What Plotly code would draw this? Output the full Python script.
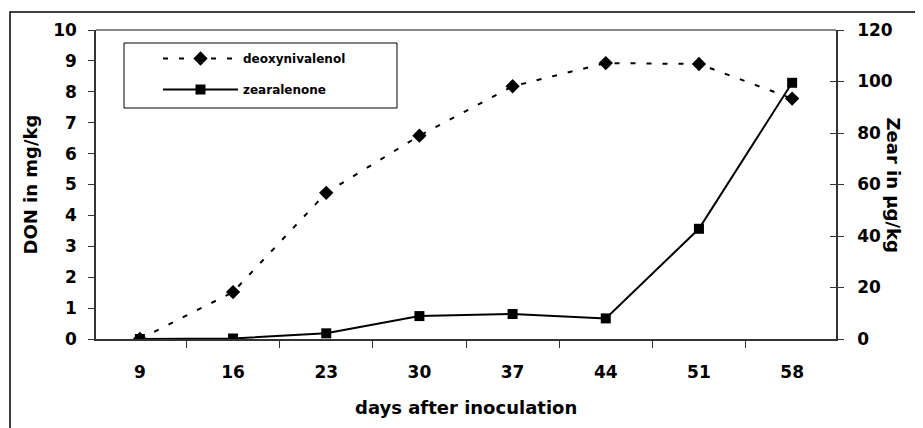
import plotly.graph_objects as go

days = ["9", "16", "23", "30", "37", "44", "51", "58"]
don_mg_kg = [0.0, 1.52, 4.73, 6.58, 8.18, 8.93, 8.9, 7.78]
zear_ug_kg = [0.0, 0.2, 2.2, 8.9, 9.7, 8.0, 42.8, 99.5]
left_ticks = list(range(0, 11))
right_ticks = list(range(0, 121, 20))

FONT = "DejaVu Sans"
OFF = 8  # default body margin of the page
W, H = 923 - OFF, 428 - OFF
# plot area in page pixels: x 96..836, y 30..339
PL, PR, PT, PB = 96, 836, 30, 339
L, T = PL - OFF, PT - OFF
R, B = W - (PR - OFF), H - (PB - OFF)
PW, PH = PR - PL, PB - PT


def px(x):
    return (x - PL) / PW


def py(y):
    return (PB - y) / PH


fig = go.Figure()
fig.add_trace(go.Scatter(
    x=days, y=don_mg_kg, name="deoxynivalenol", mode="lines+markers",
    line=dict(color="black", width=2, dash="5px,11px"),
    marker=dict(symbol="diamond", size=11, color="black"),
    legendgroup="a", yaxis="y"))
fig.add_trace(go.Scatter(
    x=days, y=zear_ug_kg, name="zearalenone", mode="lines+markers",
    line=dict(color="black", width=2),
    marker=dict(symbol="square", size=10, color="black"),
    legendgroup="b", yaxis="y2"))
fig.add_trace(go.Scatter(x=[days[0]], y=[None], yaxis="y3", showlegend=False,
                         hoverinfo="skip"))

tickfont = dict(family=FONT, size=17, color="black", weight="bold")
titlefont = dict(family=FONT, size=18, color="black", weight="bold")

fig.update_layout(
    width=W, height=H,
    margin=dict(l=L, r=R, t=T, b=B, autoexpand=False),
    paper_bgcolor="white", plot_bgcolor="white",
    showlegend=True,
    legend=dict(
        x=px(158), y=py(44),
        xanchor="left", yanchor="top",
        bgcolor="rgba(0,0,0,0)", borderwidth=0,
        font=dict(family=FONT, size=12, color="black", weight="bold"),
        itemwidth=75, tracegroupgap=12, traceorder="grouped",
    ),
    xaxis=dict(
        type="category", categoryorder="array", categoryarray=days,
        tickson="boundaries", ticks="outside", ticklen=7, tickcolor="#333",
        showline=True, linecolor="#333", linewidth=1.5,
        showgrid=False, zeroline=False, tickfont=tickfont,
        ticklabelstandoff=17,
    ),
    yaxis=dict(
        range=[0, 10], tickvals=left_ticks, ticks="outside", ticklen=6,
        tickcolor="#333", showline=True, linecolor="#333", linewidth=1.5,
        showgrid=False, zeroline=False, tickfont=tickfont,
        ticklabelstandoff=8,
    ),
    yaxis2=dict(
        range=[0, 120], tickvals=right_ticks, overlaying="y", side="right",
        ticks="outside", ticklen=6, tickcolor="#333",
        showline=True, linecolor="#333", linewidth=1.5,
        showgrid=False, zeroline=False, tickfont=tickfont,
        ticklabelstandoff=10,
    ),
    yaxis3=dict(
        range=[0, 120], tickvals=right_ticks, overlaying="y", side="right",
        ticks="inside", ticklen=6, tickcolor="#333", showticklabels=False,
        showline=False, showgrid=False, zeroline=False,
    ),
    shapes=[
        dict(type="line", xref="paper", yref="paper", x0=0, x1=1, y0=1, y1=1,
             line=dict(color="#888", width=2), layer="below"),
        dict(type="rect", xref="paper", yref="paper",
             x0=px(10), x1=px(940), y0=py(440), y1=py(12),
             line=dict(color="black", width=1.5), fillcolor="rgba(0,0,0,0)"),
        dict(type="rect", xref="paper", yref="paper",
             x0=px(124), x1=px(397), y0=py(108), y1=py(43),
             line=dict(color="black", width=1), fillcolor="white",
             layer="below"),
    ],
    annotations=[
        dict(text="days after inoculation", xref="paper", yref="paper",
             x=0.5, y=py(407), xanchor="center",
             yanchor="middle", showarrow=False, font=titlefont),
        dict(text="DON in mg/kg", xref="paper", yref="paper",
             x=px(30), y=0.5, xanchor="center",
             yanchor="middle", textangle=-90, showarrow=False, font=titlefont),
        dict(text="Zear in µg/kg", xref="paper", yref="paper",
             x=px(893), y=0.5, xanchor="center",
             yanchor="middle", textangle=90, showarrow=False, font=titlefont),
    ],
)

fig.write_html("out.html")
